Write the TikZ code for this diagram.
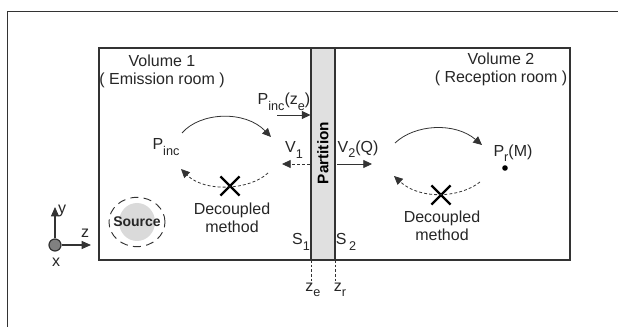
\documentclass[tikz,border=0pt]{standalone}
\usepackage{fontspec}
\setmainfont{Liberation Sans}
\usetikzlibrary{arrows.meta,positioning,shapes.geometric,shapes.misc}
\definecolor{linegray}{HTML}{333333}
\definecolor{wallgray}{HTML}{E0E0E0}
\definecolor{srcgray}{HTML}{DADADA}
\newcommand{\lowsub}[1]{\raisebox{-0.65ex}{\fontsize{9.5}{10}\selectfont #1}}

\begin{document}
\begin{tikzpicture}[x=0.75pt,y=-0.75pt,
    lbl/.style={font=\fontsize{12}{13.5}\selectfont, text=black!85, inner sep=0pt, align=center},
    solidarr/.style={-{Triangle[length=6.5pt,width=6pt]}, line width=0.6pt, draw=linegray},
    dasharr/.style={solidarr, dash pattern=on 2.2pt off 1.6pt},
    crossmark/.style={cross out, draw=black, line width=1.8pt, minimum size=12.5pt, inner sep=0pt},
    guide/.style={linegray, line width=0.5pt, dash pattern=on 2pt off 1.5pt}]
    \useasboundingbox (0,0) rectangle (618,327);
    \draw[linegray, line width=0.6pt] (7,327) -- (7,11) -- (618,11);
    \fill[wallgray] (311,48) rectangle (335,260);
    \draw[linegray, line width=0.8pt] (99,48) rectangle (570,260);
    \draw[linegray, line width=0.8pt] (311,48) -- (311,260) (335,48) -- (335,260);
    \node[lbl] (vol1) at (162,71) {Volume 1\\( Emission room )};
    \node[lbl] (vol2) at (501,69) {Volume 2\\( Reception room )};
    \node[lbl, rotate=90, font=\fontsize{11.5}{13}\selectfont\bfseries, text=black] (partlbl) at (323,153) {Partition};
    \node[lbl] (pincze) at (284,102) {P\lowsub{inc}(z\lowsub{e})};
    \node[lbl] (pinc) at (166,147) {P\lowsub{inc}};
    \node[lbl] (vone) at (294,150) {V\lowsub{1}};
    \node[lbl] (vtwo) at (358,149) {V\lowsub{2}(Q)};
    \node[lbl] (prm) at (513,153) {P\lowsub{r}(M)};
    \node[circle, fill=black, inner sep=0pt, minimum size=4.2pt] (rdot) at (505,168) {};
    \node[lbl] (decl) at (232,218) {Decoupled\\method};
    \node[lbl] (decr) at (442,226) {Decoupled\\method};
    \node[crossmark] (crossl) at (230,186) {};
    \node[crossmark] (crossr) at (441,195) {};
    \node[ellipse, draw=linegray, line width=0.7pt, dash pattern=on 6pt off 4pt, minimum width=42pt, minimum height=37pt] (srcring) at (137,222) {};
    \node[ellipse, fill=srcgray, minimum width=27pt, minimum height=28.5pt, inner sep=0pt] (srcdisc) at (137,222) {};
    \node[lbl, font=\fontsize{10.5}{11}\selectfont\bfseries] (srclbl) at (137,222) {Source};
    \node[lbl] (sone) at (301,242) {S\lowsub{1}};
    \node[lbl] (stwo) at (346,242) {S\,\lowsub{2}};
    \node[lbl] (zelbl) at (313,290) {z\lowsub{e}};
    \node[lbl] (zrlbl) at (340,290) {z\lowsub{r}};
    \draw[guide] (311,260) -- (311,282);
    \draw[guide] (335,260) -- (335,282);
    \coordinate (incstart) at (277,115);
    \coordinate (incwall) at (310.5,115);
    \coordinate (vonewall) at (310,164);
    \coordinate (vonetip) at (282,164);
    \coordinate (vtwowall) at (337,164);
    \coordinate (vtwotip) at (372,164);
    \draw[solidarr] (incstart) -- (incwall);
    \draw[dasharr] (vonewall) -- (vonetip);
    \draw[solidarr] (vtwowall) -- (vtwotip);
    \draw[solidarr] (182,133) .. controls (200,112) and (245,110) .. (271,137);
    \draw[dasharr] (268,173) .. controls (250,190) and (205,193) .. (181,169);
    \draw[solidarr] (395,143) .. controls (415,124) and (455,122) .. (482,145);
    \draw[dasharr] (480,182) .. controls (460,198) and (420,200) .. (394,176);
    \node[circle, fill=gray, draw=linegray, line width=0.9pt, minimum size=9pt, inner sep=0pt] (axo) at (55,245) {};
    \coordinate (ytip) at (55,207);
    \coordinate (ztip) at (91,245);
    \draw[-{Triangle[length=7pt,width=6pt]}, linegray, line width=0.8pt] (axo.north) -- (ytip);
    \draw[-{Triangle[length=7pt,width=6pt]}, linegray, line width=0.8pt] (axo.east) -- (ztip);
    \node[lbl] (ylbl) at (62,211) {y};
    \node[lbl] (zlbl) at (85,233) {z};
    \node[lbl] (xlbl) at (56,262) {x};
\end{tikzpicture}
\end{document}
